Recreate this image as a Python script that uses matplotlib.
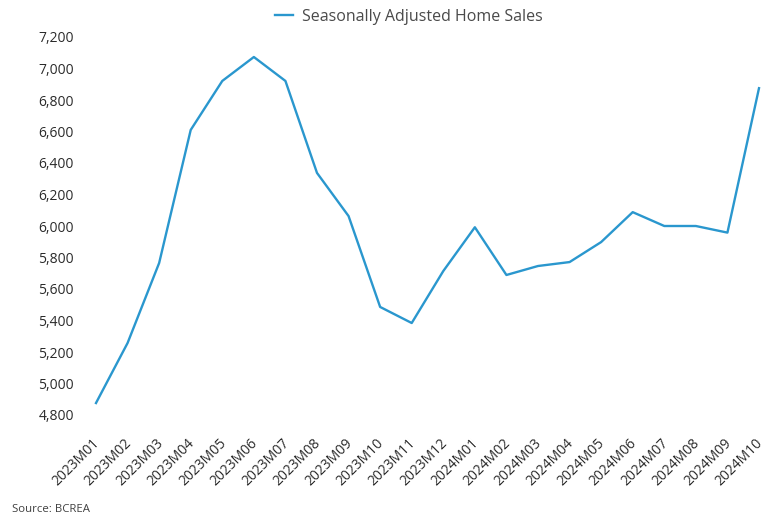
import matplotlib
matplotlib.use("Agg")
import matplotlib.pyplot as plt
from matplotlib.ticker import FuncFormatter, MultipleLocator
from matplotlib.transforms import ScaledTranslation

months = ["2023M01", "2023M02", "2023M03", "2023M04", "2023M05", "2023M06",
          "2023M07", "2023M08", "2023M09", "2023M10", "2023M11", "2023M12",
          "2024M01", "2024M02", "2024M03", "2024M04", "2024M05", "2024M06",
          "2024M07", "2024M08", "2024M09", "2024M10"]
sales = [4876, 5257, 5765, 6610, 6921, 7073, 6921, 6337, 6063, 5486, 5384, 5714,
         5992, 5689, 5746, 5771, 5898, 6088, 6000, 6000, 5958, 6875]
series_name = "Seasonally Adjusted Home Sales"
source_text = "Source: BCREA"

plt.rcParams['font.family'] = ['Open Sans', 'DejaVu Sans']

fig = plt.figure(figsize=(7.66, 5.14), dpi=100)
ax = fig.add_axes([96/766, 1-415/514, (759-96)/766, 378/514])

ax.plot(range(len(months)), sales, color="#2A97CE", lw=1.7, clip_on=False,
        label=series_name)
ax.set_xlim(0, len(months)-1)
ax.set_ylim(4800, 7200)
ax.yaxis.set_major_locator(MultipleLocator(200))
ax.yaxis.set_major_formatter(FuncFormatter(lambda v, p: f"{int(v):,}"))
ax.set_xticks(range(len(months)))
ax.set_xticklabels(months, rotation=45, ha="right", rotation_mode="default")

for s in ax.spines.values():
    s.set_visible(False)
ax.tick_params(axis="both", length=0, labelsize=10, colors="#2b2b2b")
ax.tick_params(axis="y", pad=16)
ax.tick_params(axis="x", pad=15)
off = ScaledTranslation(7/100, 0, fig.dpi_scale_trans)
for lbl in ax.get_xticklabels():
    lbl.set_transform(lbl.get_transform() + off)

leg = fig.legend(loc="center", bbox_to_anchor=(409/766, 1-17/514), frameon=False,
                 fontsize=11.5, handlelength=1.1, handletextpad=0.6)
for t in leg.get_texts():
    t.set_color("#4a4a4a")

fig.text(12/766, 1-510/514, source_text, fontsize=8.2, color="#404040",
         ha="left", va="center")

fig.savefig("out.png", dpi=100)
